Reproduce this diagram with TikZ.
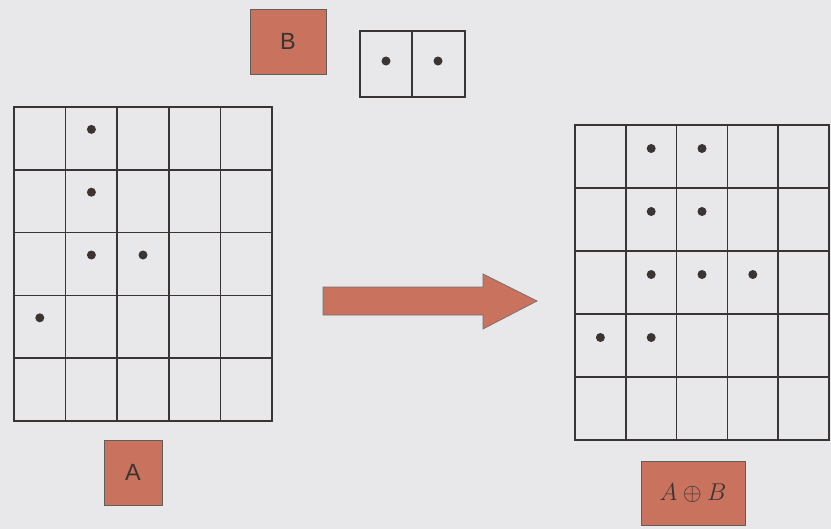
\documentclass[tikz,border=0pt]{standalone}
\usepackage{fontspec}
\setsansfont{Liberation Sans}
\definecolor{brick}{RGB}{201,114,94}
\definecolor{paper}{RGB}{232,232,234}
\definecolor{ink}{RGB}{58,52,50}
\begin{document}
\begin{tikzpicture}[x=0.03cm,y=-0.03cm,
  cell/.style={draw=ink,line width=1.3pt},
  frame/.style={draw=ink,line width=2.4pt},
  dot/.style={circle,fill=ink,inner sep=0pt,minimum size=0.27cm},
  tag/.style={draw=ink!80,fill=brick,line width=.6pt,inner sep=0pt,text=ink,
    font=\sffamily\fontsize{20}{24}\selectfont}]
\fill[paper] (0,0) rectangle (831,529);
\useasboundingbox (0,0) rectangle (831,529);
% matrix A
\foreach \i in {1,...,4}{
 \draw[cell] ({14+51.6*\i},107) -- ({14+51.6*\i},421);
 \draw[cell] (14,{107+62.8*\i}) -- (272,{107+62.8*\i});}
\draw[frame] (14,107) rectangle (272,421);
\foreach \name/\c/\r in {a10/1/0,a11/1/1,a12/1/2,a22/2/2,a03/0/3}
 \node[dot] (\name) at ({14+51.6*(\c+.5)},{107+62.8*(\r+.5)-9}) {};
\node[tag,minimum width=1.74cm,minimum height=1.95cm] (A) at (133,472.5) {A};
% structuring element B
\node[tag,minimum width=2.28cm,minimum height=1.95cm] (B) at (288,41.5) {B};
\draw[cell] (412,31) -- (412,97);
\draw[frame] (360,31) rectangle (465,97);
\foreach \name/\x in {b0/386,b1/438}
 \node[dot] (\name) at (\x,61) {};
% arrow
\filldraw[fill=brick,draw=ink!70,line width=.6pt]
 (323,287) -- (483,287) -- (483,274) -- (537,301) -- (483,329) -- (483,315) -- (323,315) -- cycle;
% matrix A+B
\foreach \i in {1,...,4}{
 \draw[cell] ({575+50.8*\i},125) -- ({575+50.8*\i},440);
 \draw[cell] (575,{125+63*\i}) -- (829,{125+63*\i});}
\draw[frame] (575,125) rectangle (829,440);
\foreach \name/\c/\r in {d10/1/0,d20/2/0,d11/1/1,d21/2/1,d12/1/2,d22/2/2,d32/3/2,d03/0/3,d13/1/3}
 \node[dot] (\name) at ({575+50.8*(\c+.5)},{125+63*(\r+.5)-8}) {};
\node[tag,minimum width=3.12cm,minimum height=1.92cm,font=\huge] (AB) at (693,493) {$A\oplus B$};
\end{tikzpicture}
\end{document}
